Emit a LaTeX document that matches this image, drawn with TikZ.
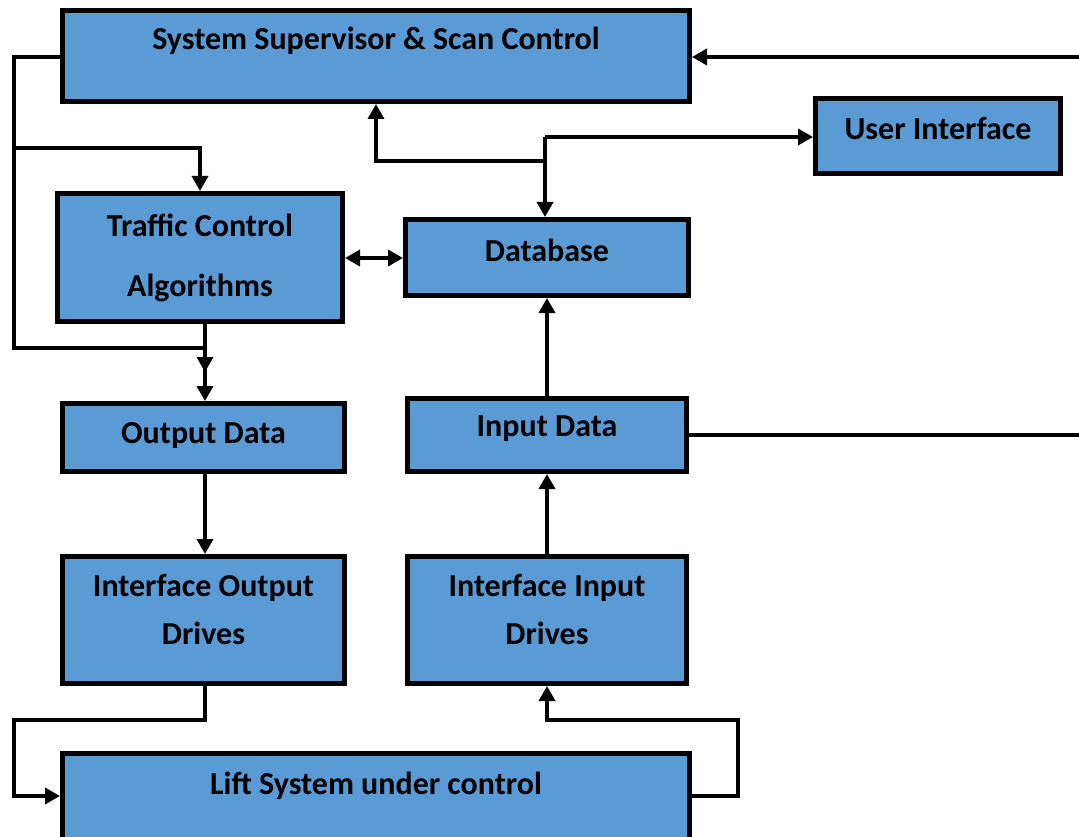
\documentclass[tikz,border=0pt]{standalone}
\usepackage{fontspec}
\setmainfont{Carlito}
\usetikzlibrary{arrows.meta}
\definecolor{boxblue}{RGB}{91,155,213}
\begin{document}
\begin{tikzpicture}[x=1pt,y=-1pt,
  box/.style={draw=black, line width=5pt, fill=boxblue, rectangle, inner sep=0pt},
  txt/.style={font=\fontsize{32}{38}\selectfont\bfseries, inner sep=0pt, align=center},
  conn/.style={line width=3.5pt, draw=black},
  arr/.style={conn, -{Triangle[length=15pt,width=16pt]}},
  darr/.style={conn, {Triangle[length=15pt,width=16pt]}-{Triangle[length=15pt,width=16pt]}}]
\useasboundingbox (0,0) rectangle (1079,837);
% boxes
\node[box, minimum width=627pt, minimum height=91pt] (sup) at (376,56) {};
\node[box, minimum width=245pt, minimum height=75pt] (ui) at (938,136) {};
\node[box, minimum width=285pt, minimum height=128pt] (tc) at (200,257.5) {};
\node[box, minimum width=283pt, minimum height=76pt] (db) at (547,257.5) {};
\node[box, minimum width=282pt, minimum height=68pt] (od) at (203.5,437.5) {};
\node[box, minimum width=279pt, minimum height=73pt] (id) at (547,435) {};
\node[box, minimum width=282pt, minimum height=127pt] (iod) at (203.5,620) {};
\node[box, minimum width=279pt, minimum height=127pt] (iid) at (547,620) {};
\node[box, minimum width=627pt, minimum height=86pt] (lift) at (376,796) {};
% texts
\node[txt] (tsup) at (376,41) {System Supervisor \& Scan Control};
\node[txt] (tui) at (938,129) {User Interface};
\node[txt] (ttc1) at (200,225) {Traffic Control};
\node[txt] (ttc2) at (200,288) {Algorithms};
\node[txt] (tdb) at (547,250) {Database};
\node[txt] (tod) at (203.5,436) {Output Data};
\node[txt] (tid) at (547,429) {Input Data};
\node[txt] (tiod1) at (203.5,588) {Interface Output};
\node[txt] (tiod2) at (203.5,633) {Drives};
\node[txt] (tiid1) at (547,588) {Interface Input};
\node[txt] (tiid2) at (547,633) {Drives};
\node[txt] (tlift) at (376,786) {Lift System under control};
% coordinates
\coordinate (inR) at (1079,57);
\coordinate (outR) at (1079,435);
\coordinate (jL) at (14,148);
\coordinate (jdb) at (545,161);
\coordinate (jui) at (545,137);
\coordinate (tcend) at (205,372);
% connectors
\draw[arr] (inR) -- (sup.east |- inR);
\draw[arr] (sup.west |- 0,57) -| (14,348) -| (od.north -| 205,0);
\draw[arr] (jL) -| (tc.north -| 200,0);
\draw[arr] (tc.south -| 205,0) -- (tcend);
\draw[arr] (jdb) -| (sup.south -| 376,0);
\draw[conn] (jdb) -- (jui);
\draw[arr] (jui) -- (ui.west |- jui);
\draw[arr] (jui) -- (db.north -| jui);
\draw[darr] (tc.east |- 0,258) -- (db.west |- 0,258);
\draw[arr] (id.north -| 547,0) -- (db.south -| 547,0);
\draw[conn] (id.east |- outR) -- (outR);
\draw[arr] (od.south -| 205,0) -- (iod.north -| 205,0);
\draw[arr] (iid.north) -- (id.south);
\draw[arr] (iod.south -| 205,0) |- (14,720) |- (lift.west |- 0,796);
\draw[arr] (lift.east |- 0,796) -| (738,720) -| (iid.south -| 547,0);
\end{tikzpicture}
\end{document}
